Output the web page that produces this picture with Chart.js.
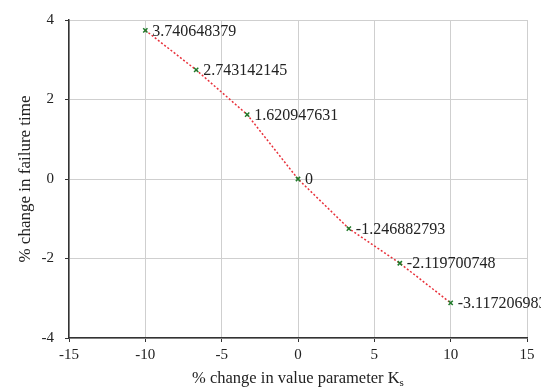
<!DOCTYPE html>
<html>
<head>
<meta charset="utf-8">
<script src="https://cdn.jsdelivr.net/npm/chart.js@4"></script>
<style>
  html, body { margin: 0; padding: 0; background: #fff; }
  #wrap { width: 541px; height: 390px; }
</style>
</head>
<body>
<div id="wrap"><canvas id="chart" width="541" height="390"></canvas></div>
<script>
// valores
const pctChange = [-10, -6.67, -3.33, 0, 3.33, 6.67, 10];
const failureChange = [3.740648379, 2.743142145, 1.620947631, 0, -1.246882793, -2.119700748, -3.117206983];
const pointLabels = ['3.740648379', '2.743142145', '1.620947631', '0', '-1.246882793', '-2.119700748', '-3.117206983'];
const xTitle = '% change in value parameter K';
const xTitleSub = 's';
const yTitle = '% change in failure time';

const serif = '"Liberation Serif", "Times New Roman", serif';

// rótulos ao lado de cada ponto
const labelPlugin = {
  id: 'pointLabels',
  afterDatasetsDraw(chart) {
    const ctx = chart.ctx;
    const meta = chart.getDatasetMeta(0);
    ctx.save();
    ctx.font = '16px ' + serif;
    ctx.fillStyle = '#222';
    ctx.textAlign = 'left';
    ctx.textBaseline = 'middle';
    meta.data.forEach((pt, i) => {
      ctx.fillText(pointLabels[i], pt.x + 7, pt.y + 1);
    });
    ctx.restore();
  }
};

// título do eixo x com subscrito
const xTitlePlugin = {
  id: 'xTitle',
  afterDraw(chart) {
    const ctx = chart.ctx;
    const area = chart.chartArea;
    ctx.save();
    ctx.fillStyle = '#222';
    ctx.textBaseline = 'alphabetic';
    ctx.font = '16.5px ' + serif;
    const w1 = ctx.measureText(xTitle).width;
    ctx.font = '11px ' + serif;
    const w2 = ctx.measureText(xTitleSub).width;
    const cx = (area.left + area.right) / 2;
    const x0 = cx - (w1 + w2) / 2;
    const y0 = 383;
    ctx.font = '16.5px ' + serif;
    ctx.textAlign = 'left';
    ctx.fillText(xTitle, x0, y0);
    ctx.font = '11px ' + serif;
    ctx.fillText(xTitleSub, x0 + w1, y0 + 3);
    ctx.restore();
  }
};

const ctx = document.getElementById('chart');
new Chart(ctx, {
  type: 'scatter',
  data: {
    datasets: [{
      data: pctChange.map((x, i) => ({ x: x, y: failureChange[i] })),
      showLine: true,
      borderColor: '#e8303a',
      borderWidth: 1.5,
      borderDash: [2, 2],
      pointStyle: 'crossRot',
      pointRadius: 3,
      pointBorderColor: '#1f7a2a',
      pointBorderWidth: 1.5,
      pointBackgroundColor: '#1f7a2a'
    }]
  },
  options: {
    responsive: false,
    animation: false,
    layout: { padding: { top: 15, right: 14, left: 0, bottom: 0 } },
    plugins: {
      legend: { display: false },
      tooltip: { enabled: false }
    },
    scales: {
      x: {
        type: 'linear',
        min: -15,
        max: 15,
        afterFit: (s) => { s.height = 52; },
        ticks: { stepSize: 5, color: '#222', font: { family: serif, size: 15 }, padding: 4, maxRotation: 0 },
        grid: { color: '#cfcfcf', lineWidth: 1, tickColor: '#333', tickLength: 4 },
        border: { color: '#333', width: 1.5 }
      },
      y: {
        type: 'linear',
        min: -4,
        max: 4,
        afterFit: (s) => { s.width = 69; },
        ticks: { stepSize: 2, color: '#222', font: { family: serif, size: 15 }, padding: 11 },
        grid: { color: '#cfcfcf', lineWidth: 1, tickColor: '#333', tickLength: 4 },
        border: { color: '#333', width: 1.5 },
        title: { display: true, text: yTitle, color: '#222', font: { family: serif, size: 17 }, padding: { top: 15, bottom: 0 } }
      }
    }
  },
  plugins: [labelPlugin, xTitlePlugin]
});
</script>
</body>
</html>
